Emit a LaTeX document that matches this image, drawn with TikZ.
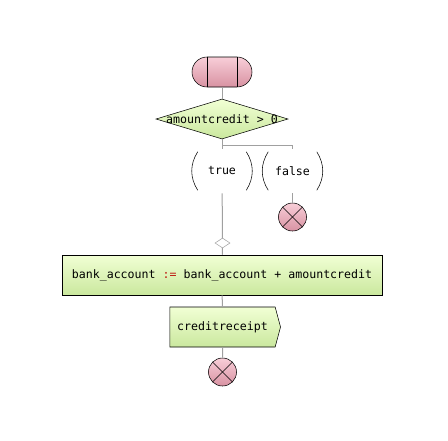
\documentclass[tikz,border=0pt]{standalone}
\usepackage{fontspec}
\setmonofont{DejaVu Sans Mono}
\usetikzlibrary{positioning, calc, shapes.geometric, shapes.symbols}
\definecolor{pinkTop}{RGB}{248,206,216}
\definecolor{pinkBot}{RGB}{216,146,162}
\definecolor{greenTop}{RGB}{241,255,212}
\definecolor{greenBot}{RGB}{202,232,158}
\definecolor{flow}{RGB}{160,160,160}
\definecolor{assign}{RGB}{190,30,20}

\begin{document}
\begin{tikzpicture}[x=0.75pt, y=0.75pt, font=\ttfamily\fontsize{8.7}{10}\selectfont,
  pinkfill/.style={top color=pinkTop, bottom color=pinkBot},
  greenfill/.style={top color=greenTop, bottom color=greenBot},
  flowline/.style={draw=flow, line width=0.75pt},
  startnode/.style={rectangle, draw, pinkfill, rounded corners=11.25pt, minimum width=45pt, minimum height=22.5pt},
  finalnode/.style={circle, draw, pinkfill, minimum size=21pt, inner sep=0pt},
  decision/.style={diamond, draw, greenfill, minimum width=99pt, minimum height=30pt, inner sep=0pt},
  merge/.style={diamond, draw=flow, fill=white, minimum width=11.25pt, minimum height=7.5pt, inner sep=0pt},
  action/.style={rectangle, draw, greenfill, minimum width=240pt, minimum height=30pt},
  sendsig/.style={signal, signal to=east, signal pointer angle=150, draw, greenfill, minimum width=83pt, minimum height=30pt},
  guard/.style={minimum width=45pt, minimum height=33pt, inner sep=0pt}]
  \fill[white] (0,0) rectangle (448,-440);

  % activity: credit the account
  \node[startnode] (start) at (222,-72) {};
  \draw ([xshift=-11.25pt]start.north) -- ([xshift=-11.25pt]start.south);
  \draw ([xshift=11.25pt]start.north) -- ([xshift=11.25pt]start.south);
  \node[decision] (cond) at (222,-119) {};
  \node (condtext) at (cond) {amountcredit > 0};

  \node[guard] (gtrue) at (222,-171) {true};
  \node[guard] (gfalse) at (292.5,-171) {false};
  \foreach \g in {gtrue, gfalse} {
    \draw ([xshift=4.5pt,yshift=-2.25pt]\g.north west) .. controls +(-6pt,-9.5pt) and +(-6pt,9.5pt) .. ([xshift=4.5pt,yshift=2.25pt]\g.south west);
    \draw ([xshift=-4.5pt,yshift=-2.25pt]\g.north east) .. controls +(6pt,-9.5pt) and +(6pt,9.5pt) .. ([xshift=-4.5pt,yshift=2.25pt]\g.south east);
  }

  \node[finalnode] (endfalse) at (292.5,-217) {};
  \node[merge] (join) at (222.5,-243) {};
  \node[action] (update) at (222,-275) {bank\_account {\color{assign}:=} bank\_account + amountcredit};
  \node[sendsig] (receipt) at (222.5,-327) {creditreceipt};
  \node[finalnode] (endok) at (222.5,-372) {};
  \foreach \e in {endfalse, endok} {
    \draw (\e.north west) -- (\e.south east);
    \draw (\e.north east) -- (\e.south west);
  }

  \draw[flowline] (start) -- (cond);
  \draw[flowline] (cond.south) -- (gtrue.north);
  \draw[flowline] (cond.south) -- ++(0,-6) -| (gfalse.north);
  \draw[flowline] (gtrue) -- (join);
  \draw[flowline] (gfalse) -- (endfalse);
  \draw[flowline] (join) -- (update);
  \draw[flowline] (update) -- (receipt);
  \draw[flowline] (receipt) -- (endok);
\end{tikzpicture}
\end{document}
